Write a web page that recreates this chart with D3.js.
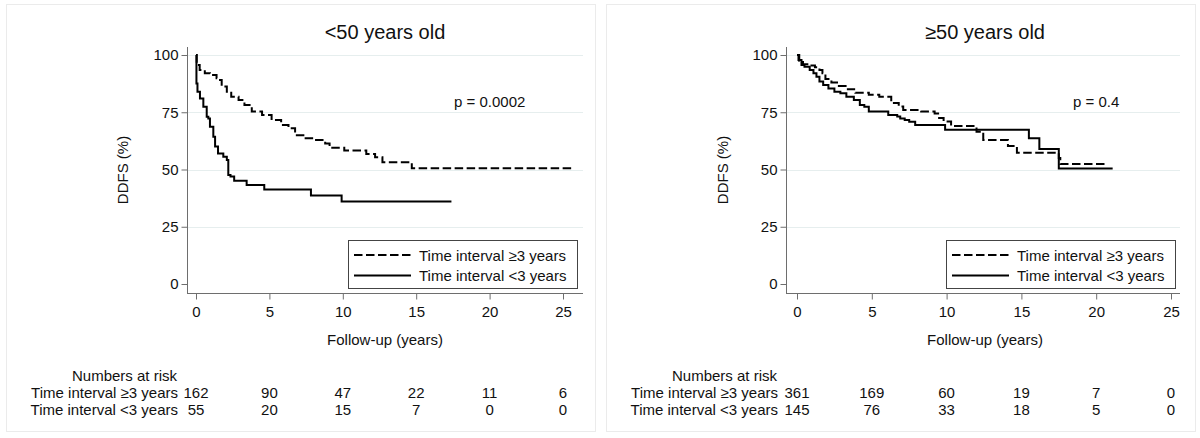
<!DOCTYPE html>
<html>
<head>
<meta charset="utf-8">
<script src="https://cdn.jsdelivr.net/npm/d3@7"></script>
<style>
  html, body { margin: 0; padding: 0; background: #fff; }
  svg { display: block; font-family: "Liberation Sans", Arial, sans-serif; }
</style>
</head>
<body>
<svg id="chart" width="1200" height="438"></svg>
<script>
// ---------------- DATA ----------------
const xTicks = [0, 5, 10, 15, 20, 25];
const yTicks = [0, 25, 50, 75, 100];
const panelTitles = ["<50 years old", "\u226550 years old"];
const seriesNames = ["Time interval \u22653 years", "Time interval <3 years"];
const pValues = ["p = 0.0002", "p = 0.4"];
const xAxisTitle = "Follow-up (years)";
const yAxisTitle = "DDFS (%)";
const riskTitle = "Numbers at risk";

// <50 years, interval >=3 years (step starts: time, survival %)
const youngGe3Time = [0, 0.05, 0.25, 0.6, 0.95, 1.4, 1.55, 1.75, 2.1, 2.4, 2.9, 3.3, 3.8, 4.5, 5.15, 5.8, 6.3, 6.75, 7.4, 8.1, 8.8, 9.1, 10.1, 11.6, 12.2, 12.7, 14.7, 25.7];
const youngGe3Surv = [100, 95.6, 93.4, 92, 91.3, 89.8, 89.1, 86.2, 84, 81.8, 80.3, 78.2, 75.3, 73.8, 71.6, 69.4, 68, 65, 63.6, 62.9, 61.4, 59.5, 58.3, 56.8, 55.3, 53.2, 50.5, 50.5];
// <50 years, interval <3 years
const youngLt3Time = [0, 0.03, 0.1, 0.27, 0.5, 0.73, 0.84, 0.95, 1.18, 1.3, 1.5, 1.86, 2.1, 2.2, 2.35, 2.6, 3.45, 4.65, 7.83, 9.92, 17.4];
const youngLt3Surv = [100, 87.6, 84, 81, 77.4, 73, 72.3, 68.7, 64.3, 60, 57, 55.6, 54.1, 47.6, 46.9, 45.1, 43.2, 41.3, 38.6, 36, 36];
// >=50 years, interval >=3 years
const oldGe3Time = [0, 0.15, 0.4, 0.9, 1.2, 1.5, 1.7, 1.9, 2.3, 2.8, 3.4, 3.9, 4.8, 5.5, 6.3, 6.8, 7.1, 8.3, 9.2, 9.5, 9.8, 10.3, 12.0, 12.45, 14.1, 14.7, 17.5, 17.6, 20.7];
const oldGe3Surv = [100, 97.5, 96, 95.4, 94.6, 93.4, 92, 89.5, 88, 86.5, 85, 83.5, 82.6, 81.8, 79, 77.5, 76, 75.3, 74.5, 72.5, 71, 69, 66.5, 62.9, 60.3, 57.3, 55, 52.4, 52.4];
// >=50 years, interval <3 years
const oldLt3Time = [0, 0.1, 0.3, 0.5, 0.85, 1.1, 1.3, 1.5, 1.75, 2.1, 2.5, 2.9, 3.3, 3.8, 4.2, 4.5, 4.8, 6.1, 6.7, 6.9, 7.2, 7.5, 7.9, 9.9, 15.5, 16.2, 17.5, 21.1];
const oldLt3Surv = [100, 97.8, 95.6, 94.9, 93.4, 92, 90.5, 88.4, 86.9, 85.4, 84, 83.3, 81.8, 80.3, 78.2, 77.4, 75.3, 73.8, 73.1, 72.3, 71.6, 70.9, 69.4, 67.4, 63.6, 59, 50.4, 50.4];

// Numbers at risk at the x ticks
const youngRiskGe3 = [162, 90, 47, 22, 11, 6];
const youngRiskLt3 = [55, 20, 15, 7, 0, 0];
const oldRiskGe3 = [361, 169, 60, 19, 7, 0];
const oldRiskLt3 = [145, 76, 33, 18, 5, 0];

// ---------------- DRAW ----------------
const svg = d3.select("#chart");
const FONT = 15;

const panels = [
  { ox: 0, axisX: 187, xr: [196, 563], right: 583, title: panelTitles[0], p: pValues[0], pX: 454,
    curves: [[youngGe3Time, youngGe3Surv], [youngLt3Time, youngLt3Surv]], risk: [youngRiskGe3, youngRiskLt3],
    legend: { x: 348, w: 229 } },
  { ox: 600, axisX: 186, xr: [197, 571], right: 580, title: panelTitles[1], p: pValues[1], pX: 473,
    curves: [[oldGe3Time, oldGe3Surv], [oldLt3Time, oldLt3Surv]], risk: [oldRiskGe3, oldRiskLt3],
    legend: { x: 346, w: 229 } }
];
const styles = [
  { dash: "8.5,3.5" },
  { dash: null }
];

panels.forEach(P => {
  const g = svg.append("g").attr("transform", `translate(${P.ox},0)`);
  // panel frame
  g.append("rect").attr("x", 6.5).attr("y", 4.5).attr("width", 589).attr("height", 427)
    .attr("fill", "none").attr("stroke", "#ebebeb").attr("stroke-width", 1);

  const top = 47, bottom = 293;
  const x = d3.scaleLinear().domain([0, 25]).range(P.xr);
  const y = d3.scaleLinear().domain([0, 100]).range([284, 55]);

  // gridlines
  g.append("g").selectAll("line").data(yTicks.filter(d => d > 0)).join("line")
    .attr("x1", P.axisX).attr("x2", P.right)
    .attr("y1", d => Math.round(y(d)) + 0.5).attr("y2", d => Math.round(y(d)) + 0.5)
    .attr("stroke", "#e6eeee").attr("stroke-width", 1);

  // axes
  const yAxis = d3.axisLeft(y).tickValues(yTicks).tickSize(6).tickPadding(3).tickSizeOuter(0);
  const ga = g.append("g").attr("transform", `translate(${P.axisX + 0.5},0)`).call(yAxis);
  ga.select(".domain").remove();
  const xAxis = d3.axisBottom(x).tickValues(xTicks).tickSize(6).tickPadding(7).tickSizeOuter(0);
  const gb = g.append("g").attr("transform", `translate(0,${bottom + 0.5})`).call(xAxis);
  gb.select(".domain").remove();
  [ga, gb].forEach(a => {
    a.selectAll("line").attr("stroke", "#6e6e6e");
    a.selectAll("text").attr("fill", "#111").style("font-size", FONT + "px")
      .style("font-family", '"Liberation Sans", Arial, sans-serif');
  });
  g.append("line").attr("x1", P.axisX + 0.5).attr("x2", P.axisX + 0.5).attr("y1", top).attr("y2", bottom + 0.5)
    .attr("stroke", "#6e6e6e");
  g.append("line").attr("x1", P.axisX).attr("x2", P.right).attr("y1", bottom + 0.5).attr("y2", bottom + 0.5)
    .attr("stroke", "#6e6e6e");

  // titles
  g.append("text").attr("x", 385).attr("y", 39).attr("text-anchor", "middle")
    .style("font-size", "20px").attr("fill", "#111").text(P.title);
  g.append("text").attr("x", 385).attr("y", 345).attr("text-anchor", "middle")
    .style("font-size", FONT + "px").attr("fill", "#111").text(xAxisTitle);
  g.append("text").attr("transform", "translate(123,170) rotate(-90)").attr("text-anchor", "middle")
    .attr("dy", "0.35em").style("font-size", FONT + "px").attr("fill", "#111").text(yAxisTitle);
  g.append("text").attr("x", P.pX).attr("y", 107)
    .style("font-size", FONT + "px").attr("fill", "#111").text(P.p);

  // curves
  const line = d3.line().x(d => x(d[0])).y(d => y(d[1])).curve(d3.curveStepAfter);
  P.curves.forEach((c, i) => {
    const pts = c[0].map((t, k) => [t, c[1][k]]);
    g.append("path").datum(pts).attr("d", line)
      .attr("fill", "none").attr("stroke", "#000").attr("stroke-width", 2)
      .attr("stroke-dasharray", styles[i].dash);
  });

  // legend
  const L = P.legend;
  g.append("rect").attr("x", L.x + 0.5).attr("y", 240.5).attr("width", L.w).attr("height", 48)
    .attr("fill", "#fff").attr("stroke", "#444").attr("stroke-width", 1);
  seriesNames.forEach((name, i) => {
    const cy = 255 + i * 20.5;
    g.append("line").attr("x1", L.x + 6).attr("x2", L.x + 63).attr("y1", cy).attr("y2", cy)
      .attr("stroke", "#000").attr("stroke-width", 2).attr("stroke-dasharray", styles[i].dash);
    g.append("text").attr("x", L.x + 71).attr("y", cy + 5.5)
      .style("font-size", FONT + "px").attr("fill", "#111").text(name);
  });

  // numbers at risk
  g.append("text").attr("x", 177).attr("y", 380.5).attr("text-anchor", "end")
    .style("font-size", FONT + "px").attr("fill", "#111").text(riskTitle);
  P.risk.forEach((row, i) => {
    const by = 398 + i * 16.5;
    g.append("text").attr("x", 178).attr("y", by).attr("text-anchor", "end")
      .style("font-size", FONT + "px").attr("fill", "#111").text(seriesNames[i]);
    g.append("g").selectAll("text").data(row).join("text")
      .attr("x", (d, k) => x(xTicks[k])).attr("y", by).attr("text-anchor", "middle")
      .style("font-size", FONT + "px").attr("fill", "#111").text(d => d);
  });
});
</script>
</body>
</html>
